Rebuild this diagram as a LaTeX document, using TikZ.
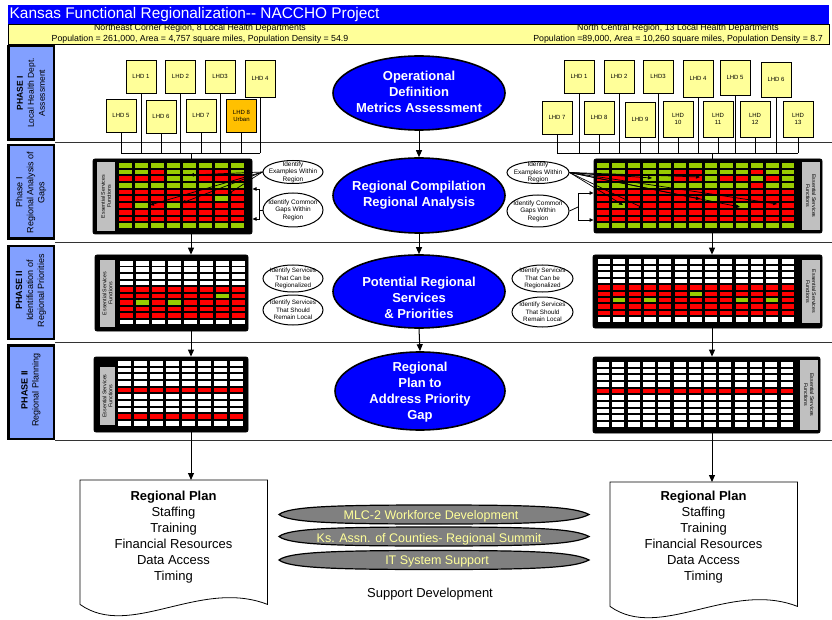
\documentclass[tikz,border=0pt]{standalone}
\usepackage{fontspec}
\setmainfont{Liberation Sans}
\usetikzlibrary{shapes.geometric,arrows.meta}
\definecolor{titleblue}{RGB}{0,0,255}
\definecolor{bandyellow}{RGB}{255,255,153}
\definecolor{phaseblue}{RGB}{130,160,255}
\definecolor{urbanorange}{RGB}{255,192,0}
\definecolor{cG}{RGB}{153,204,0}
\definecolor{cR}{RGB}{255,0,0}
\definecolor{cW}{RGB}{255,255,255}
\definecolor{labelgray}{RGB}{192,192,192}
\definecolor{lensgray}{RGB}{128,128,128}
\definecolor{lenstext}{RGB}{255,255,153}
\newcommand\cellgrid[7]{%
  \foreach \rw [count=\r from 0] in {#7} {%
    \foreach \cc [count=\i from 0] in \rw {%
      \fill[fill=c\cc] ({#1+\i*#3},{#2+\r*#4}) rectangle ++(#5,#6);
    }%
  }%
}
\newcommand\lensat[2]{%
  \draw[lensshape] ({#1-155},#2) .. controls ({#1-145},{#2-8}) and ({#1-100},{#2-9.5}) .. (#1,{#2-9.5})
    .. controls ({#1+100},{#2-9.5}) and ({#1+140},{#2-8}) .. ({#1+155},#2)
    .. controls ({#1+140},{#2+8}) and ({#1+100},{#2+9.5}) .. (#1,{#2+9.5})
    .. controls ({#1-100},{#2+9.5}) and ({#1-145},{#2+8}) .. ({#1-155},#2) -- cycle;
}
\begin{document}
\begin{tikzpicture}[x=1pt,y=-1pt,
  lhd/.style={draw, line width=0.8pt, fill=bandyellow, minimum width=30pt, minimum height=33pt, inner sep=0pt, align=center, font=\fontsize{6}{7}\selectfont},
  bigell/.style={ellipse, draw, line width=1.6pt, fill=titleblue, inner sep=0pt},
  bigtxt/.style={text=white, align=center, font=\fontsize{13}{16}\selectfont\bfseries, inner sep=0pt},
  smell/.style={ellipse, draw, line width=1pt, fill=white, inner sep=0pt},
  smtxt/.style={align=center, inner sep=0pt, font=\fontsize{6.5}{7.5}\selectfont},
  gframe/.style={draw, fill=black, rounded corners=2pt, line width=0.8pt, inner sep=0pt},
  glabel/.style={fill=labelgray, inner sep=0pt, align=center, font=\fontsize{5.3}{6}\selectfont},
  phbox/.style={draw, line width=2.5pt, fill=phaseblue, minimum width=45.5pt, inner sep=0pt},
  phtxt/.style={rotate=90, align=center, font=\fontsize{8.5}{11}\selectfont, inner sep=0pt},
  sep/.style={line width=0.8pt, draw=black!80},
  wire/.style={line width=0.8pt},
  arr/.style={line width=1pt, -{Triangle[length=7pt,width=6pt]}},
  sarr/.style={line width=0.7pt, -{Triangle[length=4pt,width=3.5pt]}},
  lensshape/.style={draw, line width=1.2pt, fill=lensgray},
  lenstxt/.style={text=lenstext, font=\fontsize{12.5}{14}\selectfont, inner sep=0pt, anchor=base},
  doctxt/.style={align=center, font=\fontsize{13}{16}\selectfont, inner sep=0pt, anchor=north},
  bandtxt/.style={anchor=base, font=\fontsize{8.8}{10}\selectfont, inner sep=0pt}
]
\useasboundingbox (0,0) rectangle (832,620);
\fill[white] (0,0) rectangle (832,620);

% header
\node[draw, line width=0.6pt, fill=bandyellow, minimum width=821pt, minimum height=20pt, inner sep=0pt, anchor=north west] (band) at (8,24) {};
\node[fill=titleblue, minimum width=821pt, minimum height=19pt, inner sep=0pt, anchor=north west] (title) at (8,5) {};
\node[anchor=base west, text=white, font=\fontsize{15.4}{17}\selectfont, inner sep=0pt] (titletxt) at (9.5,19) {Kansas Functional Regionalization-{}- NACCHO Project};
\node[bandtxt] (bandL1) at (200,31) {Northeast Corner Region, 8 Local Health Departments};
\node[bandtxt] (bandL2) at (200,42) {Population = 261,000, Area = 4,757 square miles, Population Density = 54.9};
\node[bandtxt] (bandR1) at (678,31) {North Central Region, 13 Local Health Departments};
\node[bandtxt] (bandR2) at (678,42) {Population =89,000, Area = 10,260 square miles, Population Density = 8.7};

% phase column
\node[phbox, minimum height=93.5pt] (ph1) at (31,93) {};
\node[phbox, minimum height=93.5pt] (ph2) at (31,192) {};
\node[phbox, minimum height=92.5pt] (ph3) at (31,292.5) {};
\node[phbox, minimum height=93.5pt] (ph4) at (31,392) {};
\node[phtxt] (pt1) at (31,93) {\textbf{PHASE I}\\Local Health Dept.\\Assessment};
\node[phtxt, font=\fontsize{9}{11}\selectfont] (pt2) at (31,192.5) {Phase I\\Regional Analysis of\\Gaps};
\node[phtxt, font=\fontsize{9}{11}\selectfont] (pt3) at (31,290.5) {\textbf{PHASE II}\\Identification of\\Regional Priorities};
\node[phtxt, font=\fontsize{9}{11}\selectfont] (pt4) at (31,390) {\textbf{PHASE II}\\Regional Planning};

% row separators
\draw[sep] (55,142.5) -- (832,142.5);
\draw[sep] (55,242) -- (832,242);
\draw[sep] (55,342) -- (832,342);
\draw[sep] (55,440.5) -- (832,440.5);

% grid frames
\node[gframe, minimum width=159pt, minimum height=75pt] (g1L) at (172.5,196.5) {};
\node[gframe, minimum width=228pt, minimum height=74pt] (g1R) at (708,196) {};
\node[gframe, minimum width=153pt, minimum height=76pt] (g3L) at (171.5,293) {};
\node[gframe, minimum width=229pt, minimum height=73pt] (g3R) at (707.5,291.5) {};
\node[gframe, minimum width=154pt, minimum height=75pt] (g4L) at (171,394.5) {};
\node[gframe, minimum width=227pt, minimum height=76pt] (g4R) at (706.5,395) {};

\node[glabel, rotate=90, minimum width=69pt, minimum height=18pt] (gl1L) at (106,196.5) {Essential Services\\Functions};
\node[glabel, rotate=-90, minimum width=68pt, minimum height=18pt] (gl1R) at (811,196) {Essential Services\\Functions};
\node[glabel, rotate=90, minimum width=67pt, minimum height=15pt] (gl3L) at (107.5,293.5) {Essential Services\\Functions};
\node[glabel, rotate=-90, minimum width=63pt, minimum height=18pt] (gl3R) at (811,291.5) {Essential Services\\Functions};
\node[glabel, rotate=90, minimum width=58pt, minimum height=15pt] (gl4L) at (107.5,396) {Essential Services\\Functions};
\node[glabel, rotate=-90, minimum width=70pt, minimum height=18pt] (gl4R) at (809,395) {Essential Services\\Functions};

% cells
\cellgrid{119}{163}{16}{6.7}{13}{4.7}{%
{G,G,G,G,G,G,G,G},{G,G,R,G,G,R,R,G},{R,R,R,G,G,R,R,R},{G,G,G,G,G,G,G,G},{R,R,R,R,R,R,R,R},%
{R,R,R,R,R,R,G,R},{R,G,R,G,R,R,R,R},{R,R,R,R,R,R,R,R},{R,R,R,R,R,R,R,R},{G,G,G,G,G,G,G,G}}
\cellgrid{597}{163}{15.4}{6.7}{12.3}{4.7}{%
{G,G,G,G,G,G,G,G,G,G,G,G,G},{G,G,R,G,G,R,R,G,G,G,R,G,G},{R,R,R,G,G,R,R,G,R,R,G,R,G},%
{G,G,G,G,G,G,G,G,G,G,R,G,G},{R,R,R,R,R,R,R,R,R,R,R,R,R},{R,R,R,R,R,R,R,G,R,R,R,R,R},%
{R,G,R,R,R,R,R,R,R,G,R,R,R},{R,R,R,R,R,R,R,R,R,R,R,R,R},{R,R,R,R,R,R,R,R,R,R,R,R,R},%
{G,G,G,G,G,G,G,G,G,G,G,G,G}}
\cellgrid{120}{261}{16}{6.5}{13}{4.6}{%
{W,W,W,W,W,W,W,W},{W,W,W,W,W,W,W,W},{W,W,W,W,W,W,W,W},{W,W,W,W,W,W,W,W},{R,R,R,R,R,R,R,R},%
{R,R,R,R,R,R,G,R},{R,G,R,G,R,R,R,R},{R,R,R,R,R,R,R,R},{R,R,R,R,R,R,R,R},{W,W,W,W,W,W,W,W}}
\cellgrid{598}{259.5}{15.3}{6.4}{12}{4.5}{%
{W,W,W,W,W,W,W,W,W,W,W,W,W},{W,W,W,W,W,W,W,W,W,W,W,W,W},{W,W,W,W,W,W,W,W,W,W,W,W,W},%
{W,W,W,W,W,W,W,W,W,W,W,W,W},{R,R,R,R,R,R,R,R,R,R,R,R,R},{R,R,R,R,R,R,G,R,R,R,R,R,R},%
{R,G,R,G,R,R,R,R,R,G,R,G,R},{R,R,R,R,R,R,R,R,R,R,R,R,R},{R,R,R,R,R,R,R,R,R,R,R,R,R},%
{W,W,W,W,W,W,W,W,W,W,W,W,W}}
\cellgrid{118}{361}{16}{6.65}{13}{4.8}{%
{W,W,W,W,W,W,W,W},{W,W,W,W,W,W,W,W},{W,W,W,W,W,W,W,W},{W,W,W,W,W,W,W,W},{R,R,R,R,R,R,R,R},%
{W,W,W,W,W,W,W,W},{W,W,W,W,W,W,W,W},{W,W,W,W,W,W,W,W},{R,R,R,R,R,R,R,R},{W,W,W,W,W,W,W,W}}
\cellgrid{597}{362}{15.3}{6.65}{12}{4.8}{%
{W,W,W,W,W,W,W,W,W,W,W,W,W},{W,W,W,W,W,W,W,W,W,W,W,W,W},{W,W,W,W,W,W,W,W,W,W,W,W,W},%
{W,W,W,W,W,W,W,W,W,W,W,W,W},{R,R,R,R,R,R,R,R,R,R,R,R,R},{W,W,W,W,W,W,W,W,W,W,W,W,W},%
{W,W,W,W,W,W,W,W,W,W,W,W,W},{W,W,W,W,W,W,W,W,W,W,W,W,W},{W,W,W,W,W,W,W,W,W,W,W,W,W},%
{W,W,W,W,W,W,W,W,W,W,W,W,W}}

% LHD boxes left
\node[lhd] (L1) at (141,76.5) {LHD 1};
\node[lhd] (L2) at (180.5,76.5) {LHD 2};
\node[lhd] (L3) at (220,76.5) {LHD3};
\node[lhd, minimum height=37pt] (L4) at (260,78.5) {LHD 4};
\node[lhd] (L5) at (121,115.5) {LHD 5};
\node[lhd] (L6) at (161,116.5) {LHD 6};
\node[lhd] (L7) at (201,115.5) {LHD 7};
\node[lhd, fill=urbanorange] (L8) at (241.5,115.5) {LHD 8\\Urban};
% LHD boxes right
\node[lhd] (R1) at (579,76.5) {LHD 1};
\node[lhd] (R2) at (619,76.5) {LHD 2};
\node[lhd] (R3) at (658,76.5) {LHD3};
\node[lhd, minimum height=37pt] (R4) at (698,78.5) {LHD 4};
\node[lhd, minimum height=35pt] (R5) at (735,77.5) {LHD 5};
\node[lhd, minimum height=35pt] (R6) at (776,79.5) {LHD 6};
\node[lhd] (R7) at (557,117.5) {LHD 7};
\node[lhd] (R8) at (599,117.5) {LHD 8};
\node[lhd, minimum height=35pt] (R9) at (640,119.5) {LHD 9};
\node[lhd, minimum height=36pt] (R10) at (678,119) {LHD\\10};
\node[lhd, minimum height=36pt] (R11) at (718,119) {LHD\\11};
\node[lhd, minimum height=36pt] (R12) at (755,119) {LHD\\12};
\node[lhd, minimum height=36pt] (R13) at (798,119) {LHD\\13};

% buses
\coordinate (busL) at (191,153);
\coordinate (busR) at (712,153);
\foreach \n in {L1,L2,L3,L4,L5,L6,L7,L8} {\draw[wire] (\n.south) -- (\n.south |- busL);}
\draw[wire] (busL -| L5.south) -- (busL -| L4.south);
\draw[wire] (busL) -- (busL |- g1L.north);
\foreach \n in {R1,R2,R3,R4,R5,R6,R7,R8,R9,R10,R11,R12,R13} {\draw[wire] (\n.south) -- (\n.south |- busR);}
\draw[wire] (busR -| R7.south) -- (busR -| R13.south);
\draw[wire] (busR) -- (busR |- g1R.north);

% small ellipses
\node[smell, minimum width=60pt, minimum height=23pt] (exL) at (293,172) {};
\node[smtxt] (exLt) at (293,172) {Identify\\Examples Within\\Region};
\node[smell, minimum width=60pt, minimum height=34pt] (cgL) at (293,210) {};
\node[smtxt] (cgLt) at (293,210) {Identify Common\\Gaps Within\\Region};
\node[smell, minimum width=62pt, minimum height=22pt] (exR) at (538,172.5) {};
\node[smtxt] (exRt) at (538,172.5) {Identify\\Examples Within\\Region};
\node[smell, minimum width=62pt, minimum height=32pt] (cgR) at (538,211) {};
\node[smtxt] (cgRt) at (538,211) {Identify Common\\Gaps Within\\Region};

\node[smell, minimum width=60pt, minimum height=27pt] (srL1) at (293,278.5) {};
\node[smtxt, font=\fontsize{6.3}{7.6}\selectfont] (srL1t) at (293,278.5) {Identify Services\\That Can be\\Regionalized};
\node[smell, minimum width=60pt, minimum height=30pt] (srL2) at (293,310) {};
\node[smtxt, font=\fontsize{6.3}{7.6}\selectfont] (srL2t) at (293,310) {Identify Services\\That Should\\Remain Local};
\node[smell, minimum width=61pt, minimum height=27pt] (srR1) at (542.5,278.5) {};
\node[smtxt, font=\fontsize{6.3}{7.6}\selectfont] (srR1t) at (542.5,278.5) {Identify Services\\That Can be\\Regionalized};
\node[smell, minimum width=61pt, minimum height=30pt] (srR2) at (542.5,312) {};
\node[smtxt, font=\fontsize{6.3}{7.6}\selectfont] (srR2t) at (542.5,312) {Identify Services\\That Should\\Remain Local};

% arrows into left phase I grid
\coordinate (ta1) at (190,175);
\coordinate (ta2) at (150,205);
\coordinate (ta3) at (182,203);
\coordinate (ta4) at (228,194);
\foreach \t in {ta1,ta2,ta3,ta4} {\draw[sarr] (exL.west) -- (\t);}
\coordinate (bkL) at (259,210);
\coordinate (bl1) at (252.5,189);
\coordinate (bl2) at (252.5,219);
\draw[wire] (cgL.west) -- (bkL);
\draw[sarr] (bkL) |- (bl1);
\draw[sarr] (bkL) |- (bl2);
% arrows into right phase I grid
\coordinate (tb1) at (600,175);
\coordinate (tb2) at (652,178);
\coordinate (tb3) at (700,177);
\coordinate (tb4) at (623,205);
\coordinate (tb5) at (643,208);
\coordinate (tb6) at (700,199);
\coordinate (tb7) at (740,207);
\coordinate (tb8) at (777,204);
\foreach \t in {tb1,tb2,tb3,tb4,tb5,tb6,tb7,tb8} {\draw[sarr] (exR.east) -- (\t);}
\coordinate (bkR) at (578,207);
\coordinate (br1) at (593.5,193);
\coordinate (br2) at (593.5,220);
\draw[wire] (cgR.east) -- (bkR);
\draw[sarr] (bkR) |- (br1);
\draw[sarr] (bkR) |- (br2);

% central ellipses
\node[bigell, minimum width=172pt, minimum height=74pt] (E1) at (419,93) {};
\node[bigtxt] (E1t) at (419,92) {Operational\\Definition\\Metrics Assessment};
\node[bigell, minimum width=172pt, minimum height=75pt] (E2) at (419,195.5) {};
\node[bigtxt] (E2t) at (419,195) {Regional Compilation\\Regional Analysis};
\node[bigell, minimum width=172pt, minimum height=73pt] (E3) at (419,291.5) {};
\node[bigtxt] (E3t) at (419,298) {Potential Regional\\Services\\\& Priorities};
\node[bigell, minimum width=170pt, minimum height=78pt] (E4) at (420,391) {};
\node[bigtxt] (E4t) at (420,392.5) {Regional\\Plan to\\Address Priority\\Gap};
\draw[arr] (E1.south) -- (E2.north);
\draw[arr] (E2.south) -- (E3.north);
\draw[arr] (E3.south) -- (E4.north);

% documents
\node[minimum width=187pt, minimum height=124pt, inner sep=0pt, anchor=north west] (docL) at (80,480) {};
\draw[line width=0.8pt, fill=white] (docL.north west) -- (docL.north east) -- (docL.south east)
  .. controls (200,578) and (130,640) .. (docL.south west) -- cycle;
\node[minimum width=187pt, minimum height=124pt, inner sep=0pt, anchor=north west] (docR) at (610,482) {};
\draw[line width=0.8pt, fill=white] (docR.north west) -- (docR.north east) -- (docR.south east)
  .. controls (730,580) and (660,642) .. (docR.south west) -- cycle;
\node[doctxt] (planLt) at (173.5,490.5) {\textbf{Regional Plan}\\Staffing\\Training\\Financial Resources\\Data Access\\Timing};
\node[doctxt] (planRt) at (703.5,490.5) {\textbf{Regional Plan}\\Staffing\\Training\\Financial Resources\\Data Access\\Timing};

% column arrows
\coordinate (colL) at (191,0);
\coordinate (colR) at (712,0);
\draw[arr] (g1L.south -| colL) -- (g3L.north -| colL);
\draw[arr] (g3L.south -| colL) -- (g4L.north -| colL);
\draw[arr] (g4L.south -| colL) -- (docL.north -| colL);
\draw[arr] (g1R.south -| colR) -- (g3R.north -| colR);
\draw[arr] (g3R.south -| colR) -- (g4R.north -| colR);
\draw[arr] (g4R.south -| colR) -- (docR.north -| colR);

% support lenses
\lensat{434}{514.5}
\lensat{434}{536.5}
\lensat{434}{560}
\node[lenstxt] (s1) at (431,519.5) {MLC-2 Workforce Development};
\node[lenstxt] (s2) at (429,542) {Ks. Assn. of Counties- Regional Summit};
\node[lenstxt] (s3) at (437,564.5) {IT System Support};
\node[anchor=base, font=\fontsize{13}{15}\selectfont, inner sep=0pt] (supp) at (430,597.5) {Support Development};
\end{tikzpicture}
\end{document}
